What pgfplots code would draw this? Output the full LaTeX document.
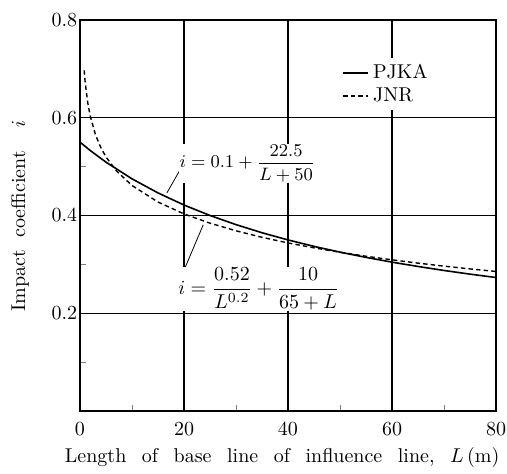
\documentclass[border=0pt]{standalone}
\usepackage{amsmath}
\usepackage{pgfplots}
\pgfplotsset{compat=1.18}

\begin{document}
\begin{tikzpicture}
\begin{axis}[
  scale only axis,
  width=208pt, height=195.5pt,
  xmin=0, xmax=80, ymin=0, ymax=0.8,
  xtick={0,20,40,60,80}, ytick={0.2,0.4,0.6,0.8},
  minor xtick={10,30,50,70}, minor ytick={0.1,0.3,0.5},
  yticklabel style={/pgf/number format/fixed, /pgf/number format/precision=1,
                    /pgf/number format/fixed zerofill, inner xsep=1.2pt},
  xticklabel style={yshift=-2.5pt, inner xsep=0pt},
  tick pos=left,
  tick align=inside, major tick length=0pt, minor tick length=3pt,
  axis line style={line width=0.9pt},
  grid=major,
  major x grid style={black, line width=0.55pt},
  major y grid style={black, line width=0.45pt},
  xlabel={{\spaceskip=0.78em plus 0.1em Length of base line of influence line, $L$\,(m)}},
  ylabel={{\spaceskip=0.6em plus 0.1em Impact coefficient \ $i$}},
  xlabel style={at={(axis description cs:0.486,-0.131)}, anchor=base},
  ylabel style={at={(axis description cs:-0.144,0.499)}, anchor=center},
  legend style={draw=none, fill=white, at={(rel axis cs:0.625,0.903)}, anchor=north west,
                inner sep=1pt, row sep=-1pt,
                cells={anchor=west}},
  legend cell align=left,
  legend image code/.code={\draw[#1] (0cm,0cm) -- (0.44cm,0cm);},
  clip=false,
]
% PJKA
\addplot[black, line width=0.8pt] coordinates {
 (0,0.550) (2,0.5327) (5,0.5091) (10,0.4750) (15,0.4462) (20,0.4214)
 (25,0.4000) (30,0.3813) (35,0.3647) (40,0.3500) (45,0.3368) (50,0.3250)
 (55,0.3143) (60,0.3045) (65,0.2957) (70,0.2875) (75,0.2800) (80,0.2731)};
% JNR
\addplot[black, line width=0.7pt, dash pattern=on 2.2pt off 1.6pt] coordinates {
 (0.8,0.697) (1,0.6715) (1.5,0.630) (2,0.602) (3,0.5645) (4,0.539)
 (5,0.5198) (7,0.4913) (10,0.4614) (15,0.4275) (20,0.4032) (25,0.3843)
 (30,0.3687) (35,0.3554) (40,0.3438) (45,0.3338) (50,0.3248) (55,0.3166)
 (60,0.3093) (65,0.3025) (70,0.2964) (75,0.2907) (80,0.2855)};
\legend{PJKA, JNR}
% annotations
\draw[black, line width=0.4pt] (axis cs:16.7,0.446) -- (axis cs:19.6,0.500);
\node[fill=white, inner sep=0.5pt, font=\small] at (axis cs:32.2,0.507)
  {$i=0.1+\dfrac{22.5}{L+50}$};
\draw[black, line width=0.4pt] (axis cs:19.2,0.268) -- (axis cs:23.7,0.381);
\node[fill=white, inner sep=0.5pt] at (axis cs:34.4,0.250)
  {$i=\dfrac{0.52}{L^{0.2}}+\dfrac{10}{65+L}$};
% room around the axis as in the reference
\path (rel axis cs:0,1) ++(0pt,10pt);
\path (rel axis cs:1,0) ++(5.5pt,-30pt);
\path (rel axis cs:0,0.5) ++(-40pt,0pt);
\end{axis}
\end{tikzpicture}
\end{document}
